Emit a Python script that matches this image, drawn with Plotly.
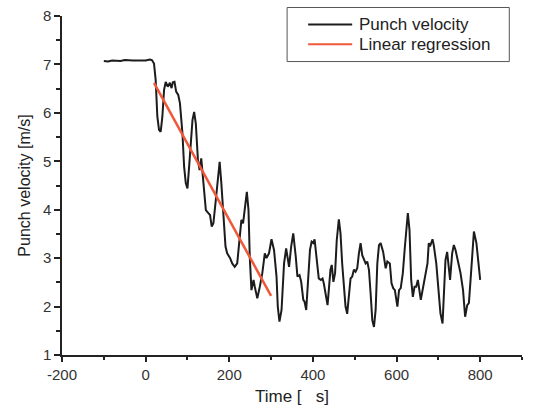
import plotly.graph_objects as go

# Punch velocity trace
time_s = [-100, -90, -80, -70, -60, -50, -40, -30, -20, -10, 0, 10, 15, 20,
          24, 28, 32, 36, 40, 44, 48, 53, 58, 62, 65, 69, 73, 78, 82, 88, 92,
          96, 100, 104, 112, 116, 120, 125, 129, 133, 136, 139, 144, 150, 154,
          158, 162, 167, 173, 177, 181, 187, 191, 195, 202, 207, 213, 219, 223,
          229, 233, 237, 242, 246, 249, 253, 258, 261, 267, 273, 279, 285, 289,
          295, 301, 307, 313, 316, 320, 325, 331, 336, 343, 348, 353, 359, 363,
          368, 372, 377, 380, 384, 388, 393, 397, 401, 404, 409, 414, 419, 423,
          426, 430, 435, 438, 442, 445, 449, 453, 457, 462, 466, 470, 474, 478,
          482, 486, 490, 494, 498, 502, 506, 510, 514, 518, 522, 526, 530, 534,
          538, 542, 546, 550, 554, 558, 562, 568, 574, 578, 584, 588, 592, 596,
          602, 606, 610, 615, 620, 624, 627, 631, 635, 639, 643, 647, 651, 658,
          662, 670, 674, 677, 680, 686, 689, 695, 701, 705, 710, 713, 717, 721,
          728, 733, 737, 741, 747, 753, 759, 764, 769, 773, 777, 781, 785, 791,
          795, 800]
velocity = [7.07, 7.06, 7.08, 7.08, 7.07, 7.09, 7.08, 7.08, 7.08, 7.08, 7.08,
            7.10, 7.09, 7.02,
            6.68, 5.92, 5.65, 5.61, 5.92, 6.47, 6.64, 6.54, 6.62, 6.51, 6.63,
            6.64, 6.44, 6.37, 6.20, 5.58, 4.89,
            4.55, 4.44, 4.89, 5.85, 6.02, 5.78, 5.03, 4.82, 5.06, 4.78, 4.41,
            3.99, 3.93, 3.89,
            3.65, 3.72, 4.13, 4.68, 4.99, 4.55, 3.79, 3.24, 3.10, 3.00, 2.89,
            2.82, 2.89, 3.31,
            3.79, 3.72, 4.06, 4.37, 3.99, 3.03, 2.34, 2.55, 2.41, 2.17, 2.41,
            2.69, 3.10, 3.00,
            3.10, 3.39, 3.17, 2.62, 2.00, 1.69, 1.93, 2.89, 3.20, 2.82, 3.24,
            3.51, 3.03, 2.62,
            2.65, 2.51, 2.14, 2.10, 1.93, 2.41, 3.17, 3.34, 3.31, 3.39, 3.03,
            2.58, 2.55, 2.58,
            2.48, 2.27, 2.03, 2.34, 2.76, 2.86, 2.51, 2.69, 3.37, 3.80, 3.51,
            2.89, 2.34, 2.00,
            1.85, 2.20, 2.58, 2.62, 2.76, 2.72, 2.79, 3.10, 3.31, 3.06, 2.96,
            2.89, 2.93, 2.76,
            2.27, 1.72, 1.58, 1.93, 2.89, 3.27, 3.31, 3.13, 2.79, 2.93, 2.89,
            2.48, 2.38, 2.34,
            2.00, 2.34, 2.38, 2.69, 3.24, 3.72, 3.93, 3.58, 2.55, 2.20, 2.41,
            2.41, 2.55, 2.14,
            2.34, 2.69, 2.89, 3.31, 3.24, 3.39, 3.27, 2.89, 2.27, 1.86, 1.65,
            2.20, 2.96, 3.13,
            2.55, 3.10, 3.27, 3.17, 2.96, 2.69, 2.34, 1.79, 2.03, 2.07, 2.55,
            3.17, 3.55, 3.31,
            2.96, 2.55]

# Linear regression end points
reg_time = [20, 300]
reg_velocity = [6.62, 2.22]

x_ticks = [-200, 0, 200, 400, 600, 800]
x_labels = ['-200', '0', '200', '400', '600', '800']

series_names = ['Punch velocity', 'Linear regression']
series_colors = ['#1c1c1c', '#f0583a']

fig = go.Figure()

fig.add_trace(go.Scatter(x=time_s, y=velocity, mode='lines', name=series_names[0],
                         line=dict(color=series_colors[0], width=2)))
fig.add_trace(go.Scatter(x=reg_time, y=reg_velocity, mode='lines', name=series_names[1],
                         line=dict(color=series_colors[1], width=2.5)))

font_family = 'Liberation Sans, Arial, sans-serif'

# legend drawn by hand (Origin-style: long sample lines, padded box)
fig.add_shape(type='rect', xref='paper', yref='paper', x0=0.4894, x1=0.9724, y0=0.8656, y1=1.0251,
              line=dict(color='#555555', width=1), fillcolor='white', layer='above')
legend_rows = [0.9749, 0.9167]
for name, color, yrow in zip(series_names, series_colors, legend_rows):
    fig.add_shape(type='line', xref='paper', yref='paper', x0=0.5351, x1=0.6308, y0=yrow, y1=yrow,
                  line=dict(color=color, width=2), layer='above')
    fig.add_annotation(xref='paper', yref='paper', x=0.6417, y=yrow, text=name, showarrow=False,
                       xanchor='left', yanchor='middle',
                       font=dict(family=font_family, size=17, color='#222222'))

fig.update_layout(
    width=539, height=414,
    margin=dict(l=62, r=17, t=16, b=59, autoexpand=False),
    paper_bgcolor='white', plot_bgcolor='white',
    font=dict(family=font_family, size=15, color='#333333'),
    showlegend=False,
)

fig.update_xaxes(range=[-200, 900], tickvals=x_ticks, ticktext=x_labels, automargin=False,
                 showgrid=False, zeroline=False, showline=True, linecolor='#222222', linewidth=1.5,
                 ticks='outside', ticklen=5, tickwidth=1.5, tickcolor='#222222',
                 minor=dict(tickvals=[-100, 100, 300, 500, 700, 900], ticks='outside',
                            ticklen=3, tickwidth=1.5, tickcolor='#222222'),
                 title=dict(text='Time [   s]', font=dict(size=17, color='#222222'), standoff=8))
fig.update_yaxes(range=[1, 8], dtick=1, automargin=False,
                 showgrid=False, zeroline=False, showline=True, linecolor='#222222', linewidth=1.5,
                 ticks='outside', ticklen=6, tickwidth=1.5, tickcolor='#222222',
                 minor=dict(dtick=0.5, ticks='outside', ticklen=4, tickwidth=1.5, tickcolor='#222222'),
                 title=dict(text='Punch velocity [m/s]', font=dict(size=16, color='#222222'), standoff=8))

# drop the browser's default body margin so the figure sits at the page origin
fig.write_html("out.html", config={'displayModeBar': False},
               post_script="document.body.style.margin='0';")
